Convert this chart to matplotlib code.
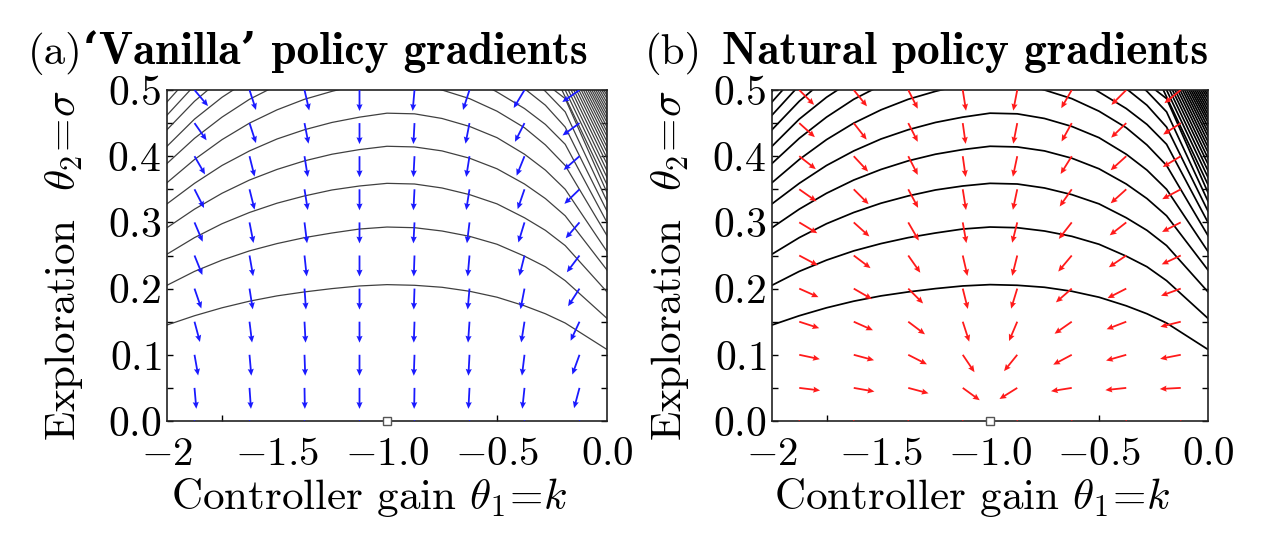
import numpy as np
import matplotlib
matplotlib.use("Agg")
import matplotlib.pyplot as plt

plt.rcParams['mathtext.fontset'] = 'cm'
plt.rcParams['font.family'] = ['cmr10', 'DejaVu Serif']
plt.rcParams['axes.formatter.use_mathtext'] = True

# arrow grid (controller gain k, exploration sigma)
grid_k = [-1.875, -1.625, -1.375, -1.125, -0.875, -0.625, -0.375, -0.125]
grid_s = [0.5, 0.45, 0.4, 0.35, 0.3, 0.25, 0.2, 0.15, 0.1, 0.05, 0.0]

# arrow directions in degrees (screen space), one row per sigma
vanilla_angle = [
    [-50, -72, -77, -90, -95, -108, -121, -145],
    [-55, -72, -79, -90, -93, -101, -117, -144],
    [-60, -76, -81, -90, -93, -99, -112, -139],
    [-63, -76, -81, -90, -93, -99, -109, -136],
    [-67, -79, -83, -90, -93, -97, -107, -131],
    [-68, -80, -84, -90, -92, -95, -104, -127],
    [-71, -81, -86, -90, -92, -95, -101, -123],
    [-75, -83, -87, -90, -92, -94, -99, -115],
    [-80, -85, -88, -90, -92, -93, -97, -110],
    [-85, -86, -89, -90, -91, -93, -96, -105],
    [-90, -90, -90, -90, -90, -90, -90, -90],
]
natural_angle = [
    [-45, -51, -63, -81, -101, -120, -135, -141],
    [-42, -52, -63, -82, -101, -119, -136, -147],
    [-38, -47, -63, -82, -102, -122, -138, -149],
    [-35, -45, -62, -81, -102, -125, -138, -152],
    [-31, -42, -60, -80, -104, -128, -142, -153],
    [-28, -37, -55, -77, -104, -130, -146, -155],
    [-24, -30, -45, -76, -107, -139, -153, -160],
    [-18, -24, -37, -72, -113, -145, -159, -166],
    [-12, -15, -27, -56, -129, -152, -164, -169],
    [-7, -10, -15, -36, -148, -171, -174, -177],
    [0, 0, 0, 0, 0, 0, 0, 0],
]
arrow_px = [21] * 10 + [0]

# contour lines of the return, sigma at each k column (nan = off the plot)
nan = np.nan
contour_k = [-2.0, -1.875, -1.75, -1.625, -1.5, -1.375, -1.25, -1.125, -1.0,
             -0.875, -0.75, -0.625, -0.5, -0.375, -0.28, -0.19, 0.0]
contour_s = [
    [0.145, 0.159, 0.171, 0.181, 0.189, 0.195, 0.200, 0.204, 0.206, 0.205, 0.202, 0.196, 0.187, 0.174, 0.162, 0.148, 0.108],
    [0.205, 0.226, 0.243, 0.257, 0.268, 0.277, 0.284, 0.290, 0.293, 0.292, 0.287, 0.279, 0.267, 0.249, 0.233, 0.212, 0.155],
    [0.252, 0.277, 0.298, 0.315, 0.329, 0.340, 0.349, 0.355, 0.359, 0.358, 0.352, 0.342, 0.328, 0.307, 0.288, 0.265, 0.195],
    [0.292, 0.320, 0.344, 0.364, 0.380, 0.393, 0.403, 0.410, 0.415, 0.414, 0.408, 0.397, 0.381, 0.358, 0.336, 0.310, 0.228],
    [0.328, 0.359, 0.386, 0.408, 0.426, 0.440, 0.451, 0.459, 0.465, 0.464, 0.457, 0.445, 0.428, 0.403, 0.379, 0.350, 0.256],
    [0.360, 0.395, 0.425, 0.450, 0.470, 0.486, 0.498, 0.508, 0.514, 0.512, 0.500, 0.487, 0.468, 0.443, 0.417, 0.386, 0.280],
    [0.389, 0.427, 0.459, 0.486, 0.507, nan, nan, nan, nan, nan, nan, 0.520, 0.497, 0.472, 0.448, 0.418, 0.300],
    [0.415, 0.456, 0.489, 0.516, nan, nan, nan, nan, nan, nan, nan, nan, 0.528, 0.502, 0.477, 0.444, 0.317],
    [0.440, 0.483, 0.518, nan, nan, nan, nan, nan, nan, nan, nan, nan, nan, 0.525, 0.498, 0.467, 0.332],
    [0.462, 0.507, nan, nan, nan, nan, nan, nan, nan, nan, nan, nan, nan, nan, 0.510, 0.487, 0.345],
    [0.482, 0.528, nan, nan, nan, nan, nan, nan, nan, nan, nan, nan, nan, nan, nan, nan, nan],
    [0.498, 0.545, nan, nan, nan, nan, nan, nan, nan, nan, nan, nan, nan, nan, nan, nan, nan],
]
# dense lines in the top right corner: where they cross the top and right edges
hatch_top_k = [-0.205, -0.19, -0.176, -0.163, -0.151, -0.139, -0.128, -0.117, -0.107, -0.097,
               -0.087, -0.078, -0.069, -0.06, -0.051, -0.042, -0.033, -0.024, -0.015, -0.006]
hatch_right_s = [0.357, 0.368, 0.378, 0.388, 0.397, 0.406, 0.414, 0.422, 0.430, 0.437,
                 0.444, 0.451, 0.457, 0.463, 0.469, 0.475, 0.481, 0.487, 0.492, 0.497]

optimum_k = -1.0
optimum_s = 0.0

xtick_vals = [-2.0, -1.5, -1.0, -0.5, 0.0]
xtick_labels = ['$-2$', '$-1.5$', '$-1.0$', '$-0.5$', '$0.0$']
xtick_minor = [-1.75, -0.5]
ytick_vals = [0.0, 0.1, 0.2, 0.3, 0.4, 0.5]
ytick_labels = ['$0.0$', '$0.1$', '$0.2$', '$0.3$', '$0.4$', '$0.5$']
ytick_minor = [0.05, 0.15, 0.25, 0.35, 0.45]


def panel(ax, angles, arrow_color, line_color, lw):
    for row in contour_s:
        ax.plot(contour_k, row, color=line_color, lw=lw)
    for xt, yr in zip(hatch_top_k, hatch_right_s):
        ax.plot([xt, 0.0], [0.5, yr], color=line_color, lw=lw)

    K, S = np.meshgrid(grid_k, grid_s)
    L = np.repeat(np.array(arrow_px, float)[:, None], len(grid_k), axis=1)
    ax.quiver(K, S, L, np.zeros_like(L), angles=np.array(angles, float),
              scale=100, scale_units='inches', units='dots', width=1.8,
              headwidth=3.4, headlength=3.8, headaxislength=3.4,
              color=arrow_color, zorder=3)

    ax.plot([optimum_k], [optimum_s], 's', ms=5.5, mfc='white', mec='#555555',
            mew=1.0, clip_on=False, zorder=5)

    ax.set_xlim(-2, 0)
    ax.set_ylim(0, 0.5)
    ax.set_xticks(xtick_vals)
    ax.set_xticklabels(xtick_labels)
    ax.set_xticks(xtick_minor, minor=True)
    ax.xaxis.remove_overlapping_locs = False
    ax.set_yticks(ytick_vals)
    ax.set_yticklabels(ytick_labels)
    ax.set_yticks(ytick_minor, minor=True)
    ax.tick_params(axis='x', which='major', length=0, labelsize=29.5, pad=11.5)
    ax.tick_params(axis='x', which='minor', direction='in', length=4, width=1)
    ax.tick_params(axis='y', which='both', direction='in', left=True, right=True,
                   length=4, width=1)
    ax.tick_params(axis='y', which='major', labelsize=30, pad=4)
    for sp in ax.spines.values():
        sp.set_linewidth(1.2)
        sp.set_color('#222222')

    ax.set_xlabel(r'Controller gain $\theta_1\!=\!k$', fontsize=31)
    ax.xaxis.set_label_coords(0.46, -0.165)
    ax.set_ylabel(r'Exploration  $\theta_2\!=\!\sigma$', fontsize=31)
    ax.yaxis.set_label_coords(-0.186, 0.468)


fig = plt.figure(figsize=(12.66, 5.38), dpi=100)
ax1 = fig.add_axes([167 / 1266, 117 / 538, 440 / 1266, 331 / 538])
ax2 = fig.add_axes([772 / 1266, 117 / 538, 436 / 1266, 331 / 538])

panel(ax1, vanilla_angle, '#1a1aff', '#404040', 0.9)
panel(ax2, natural_angle, '#ff1a1a', '#000000', 1.25)

bold = ['cmb10', 'DejaVu Serif']
fig.text(28 / 1266, 1 - 64 / 538, '(a)', fontsize=31, va='baseline')
fig.text(83 / 1266, 1 - 64 / 538, '‘Vanilla’ policy gradients', fontsize=32.7,
         va='baseline', family=bold, fontweight='bold')
fig.text(645 / 1266, 1 - 64 / 538, '(b)', fontsize=31, va='baseline')
fig.text(722 / 1266, 1 - 64 / 538, 'Natural policy gradients', fontsize=32.7,
         va='baseline', family=bold, fontweight='bold')

fig.savefig('out.png', dpi=100)
